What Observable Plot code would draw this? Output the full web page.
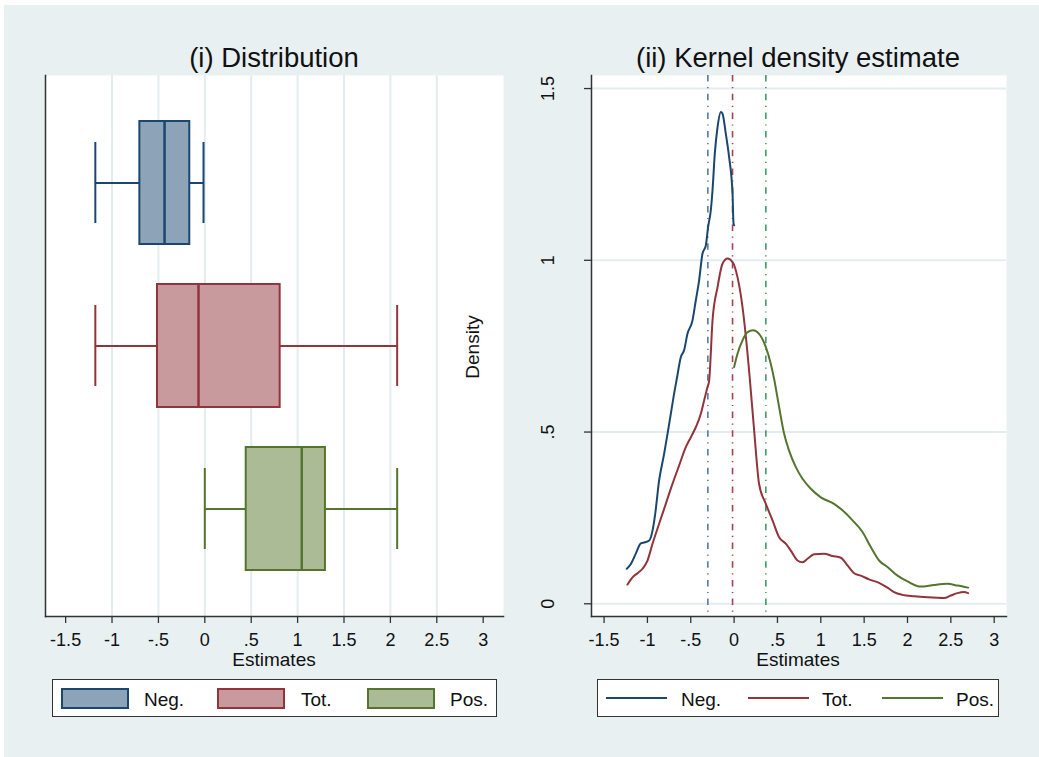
<!DOCTYPE html>
<html>
<head>
<meta charset="utf-8">
<script src="https://cdn.jsdelivr.net/npm/d3@7"></script>
<script src="https://cdn.jsdelivr.net/npm/@observablehq/plot@0.6"></script>
<style>
  body { margin: 0; background: #ffffff; font-family: "Liberation Sans", Arial, sans-serif; }
  #page { position: relative; width: 1039px; height: 757px; overflow: hidden; background: #ffffff; }
  .bg { position: absolute; left: 4px; top: 5px; width: 1035px; height: 752px; background: #e8f0f2; }
  .abs { position: absolute; line-height: 1; white-space: nowrap; color: #111; }
  .legend { position: absolute; background: #fff; border: 1.5px solid #333; box-sizing: border-box; }
  .sw { position: absolute; box-sizing: border-box; border: 2px solid; }
  .ln { position: absolute; height: 0; border-top: 2px solid; }
  .lt { position: absolute; font-size: 19px; line-height: 1; color: #111; }
</style>
</head>
<body>
<div id="page">
  <div class="bg"></div>
  <div id="left" style="position:absolute;left:0;top:40px;width:520px;height:640px"></div>
  <div id="right" style="position:absolute;left:520px;top:40px;width:519px;height:640px"></div>
  <div id="overlay"></div>
</div>
<script>
// ---------- data ----------
const groups = ["Neg.", "Tot.", "Pos."];
const boxLow  = [-1.18, -1.18, 0.00];
const boxQ1   = [-0.70, -0.51, 0.446];
const boxMed  = [-0.434, -0.068, 1.045];
const boxQ3   = [-0.162, 0.812, 1.30];
const boxHigh = [-0.014, 2.073, 2.073];
const meanLines = [-0.303, -0.018, 0.366];

const negX = [-1.238, -1.191, -1.134, -1.076, -1.030, -0.980, -0.941, -0.910, -0.865, -0.807, -0.768, -0.730, -0.692, -0.661, -0.615, -0.577, -0.538, -0.480, -0.442, -0.404, -0.365, -0.326, -0.300, -0.269, -0.249, -0.223, -0.191, -0.153, -0.134, -0.096, -0.058, -0.018, -0.007, 0.000];
const negY = [0.102, 0.116, 0.146, 0.176, 0.179, 0.184, 0.213, 0.262, 0.359, 0.437, 0.495, 0.553, 0.612, 0.655, 0.718, 0.738, 0.786, 0.825, 0.883, 0.941, 1.019, 1.043, 1.097, 1.145, 1.204, 1.310, 1.388, 1.432, 1.427, 1.369, 1.301, 1.194, 1.107, 1.102];

const totX = [-1.230, -1.172, -1.114, -1.057, -0.999, -0.941, -0.865, -0.788, -0.711, -0.634, -0.557, -0.499, -0.442, -0.384, -0.346, -0.307, -0.288, -0.249, -0.191, -0.134, -0.076, -0.018, 0.039, 0.097, 0.155, 0.181, 0.231, 0.288, 0.366, 0.443, 0.519, 0.596, 0.654, 0.731, 0.789, 0.847, 0.923, 1.038, 1.135, 1.231, 1.308, 1.384, 1.461, 1.557, 1.672, 1.769, 1.845, 1.942, 2.076, 2.230, 2.422, 2.499, 2.577, 2.653, 2.699];
const totY = [0.056, 0.077, 0.089, 0.102, 0.126, 0.175, 0.233, 0.291, 0.349, 0.403, 0.456, 0.485, 0.514, 0.553, 0.592, 0.631, 0.650, 0.825, 0.922, 0.990, 1.005, 0.995, 0.951, 0.864, 0.728, 0.655, 0.505, 0.349, 0.291, 0.243, 0.194, 0.175, 0.155, 0.126, 0.121, 0.131, 0.144, 0.146, 0.139, 0.134, 0.112, 0.089, 0.082, 0.071, 0.061, 0.047, 0.034, 0.026, 0.022, 0.019, 0.017, 0.024, 0.031, 0.034, 0.031];

const posX = [0.000, 0.039, 0.097, 0.155, 0.219, 0.288, 0.366, 0.423, 0.461, 0.519, 0.577, 0.634, 0.712, 0.789, 0.885, 1.000, 1.153, 1.250, 1.366, 1.481, 1.577, 1.672, 1.769, 1.885, 2.000, 2.153, 2.307, 2.461, 2.577, 2.699];
const posY = [0.689, 0.728, 0.767, 0.791, 0.796, 0.786, 0.747, 0.699, 0.655, 0.573, 0.495, 0.446, 0.398, 0.364, 0.335, 0.310, 0.291, 0.272, 0.243, 0.209, 0.165, 0.126, 0.107, 0.082, 0.065, 0.050, 0.055, 0.058, 0.053, 0.047];

const xTicks = [-1.5, -1, -0.5, 0, 0.5, 1, 1.5, 2, 2.5, 3];
const xGridLeft = [-1, -0.5, 0, 0.5, 1, 1.5, 2, 2.5];
const yTicks = [0, 0.5, 1, 1.5];

// ---------- styles ----------
const lineColors = ["#1a476f", "#90353b", "#55752f"];
const fillColors = ["#8da4b8", "#c89a9d", "#aabb96"];
const meanColors = ["#557ca3", "#a5424d", "#3c9d65"];
const gridColor = "#e3ecee";
const fontFamily = '"Liberation Sans", Arial, sans-serif';
const fmt = d => d === 0 ? "0" : String(d).replace(/^(-?)0\./, "$1.");

const boxData = groups.map((g, i) => ({group: g, lo: boxLow[i], q1: boxQ1[i], med: boxMed[i], q3: boxQ3[i], hi: boxHigh[i], stroke: lineColors[i], fill: fillColors[i]}));
const kde = [
  ...negX.map((x, i) => ({series: "Neg.", x, y: negY[i]})),
  ...totX.map((x, i) => ({series: "Tot.", x, y: totY[i]})),
  ...posX.map((x, i) => ({series: "Pos.", x, y: posY[i]}))
];
const means = groups.map((g, i) => ({series: g, x: meanLines[i], color: meanColors[i]}));

// ---------- left panel: box plots ----------
const left = Plot.plot({
  width: 520, height: 640,
  marginLeft: 45, marginRight: 17, marginTop: 35, marginBottom: 64,
  style: {background: "transparent", fontFamily, fontSize: "18px", color: "#111"},
  x: {domain: [-1.717, 3.219]},
  y: {domain: groups, paddingInner: 0.244, paddingOuter: 0.272, axis: null},
  marks: [
    Plot.frame({fill: "white", stroke: null}),
    Plot.ruleX(xGridLeft, {stroke: gridColor, strokeWidth: 2}),
    Plot.ruleY(boxData, {y: "group", x1: "lo", x2: "q1", stroke: "stroke", strokeWidth: 2}),
    Plot.ruleY(boxData, {y: "group", x1: "q3", x2: "hi", stroke: "stroke", strokeWidth: 2}),
    Plot.tickX(boxData, {x: "lo", y: "group", stroke: "stroke", strokeWidth: 2, insetTop: 21, insetBottom: 21}),
    Plot.tickX(boxData, {x: "hi", y: "group", stroke: "stroke", strokeWidth: 2, insetTop: 21, insetBottom: 21}),
    Plot.barX(boxData, {x1: "q1", x2: "q3", y: "group", fill: "fill", stroke: "stroke", strokeWidth: 2}),
    Plot.tickX(boxData, {x: "med", y: "group", stroke: "stroke", strokeWidth: 2.5}),
    Plot.axisX({ticks: xTicks, tickSize: 7, tickPadding: 10, tickFormat: fmt, label: null, stroke: "#333", strokeWidth: 1.3}),
    Plot.frame({anchor: "bottom", stroke: "#333", strokeWidth: 1.5}),
    Plot.frame({anchor: "left", stroke: "#333", strokeWidth: 1.5})
  ]
});
document.getElementById("left").appendChild(left);

// ---------- right panel: kernel densities ----------
const right = Plot.plot({
  width: 519, height: 640,
  marginLeft: 71, marginRight: 33, marginTop: 35, marginBottom: 64,
  style: {background: "transparent", fontFamily, fontSize: "18px", color: "#111"},
  x: {domain: [-1.645, 3.142]},
  y: {domain: [-0.037, 1.538]},
  color: {domain: groups, range: lineColors},
  marks: [
    Plot.frame({fill: "white", stroke: null}),
    Plot.ruleY(yTicks, {stroke: gridColor, strokeWidth: 2}),
    Plot.ruleX(means, {x: "x", stroke: "color", strokeWidth: 1.6, strokeDasharray: "6.5,5.5,1.2,5.5"}),
    Plot.line(kde, {x: "x", y: "y", z: "series", stroke: "series", strokeWidth: 2, curve: "monotone-x"}),
    Plot.axisX({ticks: xTicks, tickSize: 7, tickPadding: 10, tickFormat: fmt, label: null, stroke: "#333", strokeWidth: 1.3}),
    Plot.axisY({ticks: yTicks, tickSize: 7, tickFormat: () => "", label: null, stroke: "#333", strokeWidth: 1.3}),
    Plot.text(yTicks, {y: d => d, text: fmt, frameAnchor: "left", dx: -43, rotate: -90, textAnchor: "middle", lineAnchor: "middle", fontSize: 18, fill: "#111"}),
    Plot.frame({anchor: "bottom", stroke: "#333", strokeWidth: 1.5}),
    Plot.frame({anchor: "left", stroke: "#333", strokeWidth: 1.5})
  ]
});
document.getElementById("right").appendChild(right);

// ---------- titles, axis titles, legends ----------
const ov = document.getElementById("overlay");
function addText(txt, cx, baseline, size, lh = 1) {
  const d = document.createElement("div");
  d.className = "abs";
  d.textContent = txt;
  d.style.fontSize = size + "px";
  d.style.lineHeight = String(lh);
  // baseline offset from box top for Liberation Sans (ascent .905, descent .212)
  const off = ((lh - 1.117) / 2 + 0.905) * size;
  d.style.left = cx + "px";
  d.style.top = (baseline - off) + "px";
  d.style.transform = "translateX(-50%)";
  ov.appendChild(d);
  return d;
}
addText("(i) Distribution", 274, 67, 27.5);
addText("(ii) Kernel density estimate", 798, 67, 27.5);
addText("Estimates", 274, 666, 19, 0.7);
addText("Estimates", 798, 666, 19, 0.7);
const dens = document.createElement("div");
dens.className = "abs";
dens.textContent = "Density";
dens.style.cssText += "font-size:19px;left:472px;top:347px;transform:translate(-50%,-50%) rotate(-90deg);";
ov.appendChild(dens);

// left legend (box swatches)
const lg1 = document.createElement("div");
lg1.className = "legend";
lg1.style.cssText += "left:52px;top:679px;width:445px;height:38px;";
const swX = [8, 164, 314];
const lbX = [91, 248, 397];
groups.forEach((g, i) => {
  const s = document.createElement("div");
  s.className = "sw";
  s.style.cssText += `left:${swX[i]}px;top:8px;width:68px;height:21px;background:${fillColors[i]};border-color:${lineColors[i]};`;
  lg1.appendChild(s);
  const t = document.createElement("div");
  t.className = "lt";
  t.textContent = g;
  t.style.left = lbX[i] + "px";
  t.style.top = (27 - 0.847 * 19 - 1) + "px";
  lg1.appendChild(t);
});
ov.appendChild(lg1);

// right legend (lines)
const lg2 = document.createElement("div");
lg2.className = "legend";
lg2.style.cssText += "left:597px;top:679px;width:402px;height:38px;";
const lnX = [8, 150, 284];
const lb2X = [83, 224, 358];
groups.forEach((g, i) => {
  const s = document.createElement("div");
  s.className = "ln";
  s.style.cssText += `left:${lnX[i]}px;top:17px;width:61px;border-color:${lineColors[i]};`;
  lg2.appendChild(s);
  const t = document.createElement("div");
  t.className = "lt";
  t.textContent = g;
  t.style.left = lb2X[i] + "px";
  t.style.top = (27 - 0.847 * 19 - 1) + "px";
  lg2.appendChild(t);
});
ov.appendChild(lg2);
</script>
</body>
</html>
